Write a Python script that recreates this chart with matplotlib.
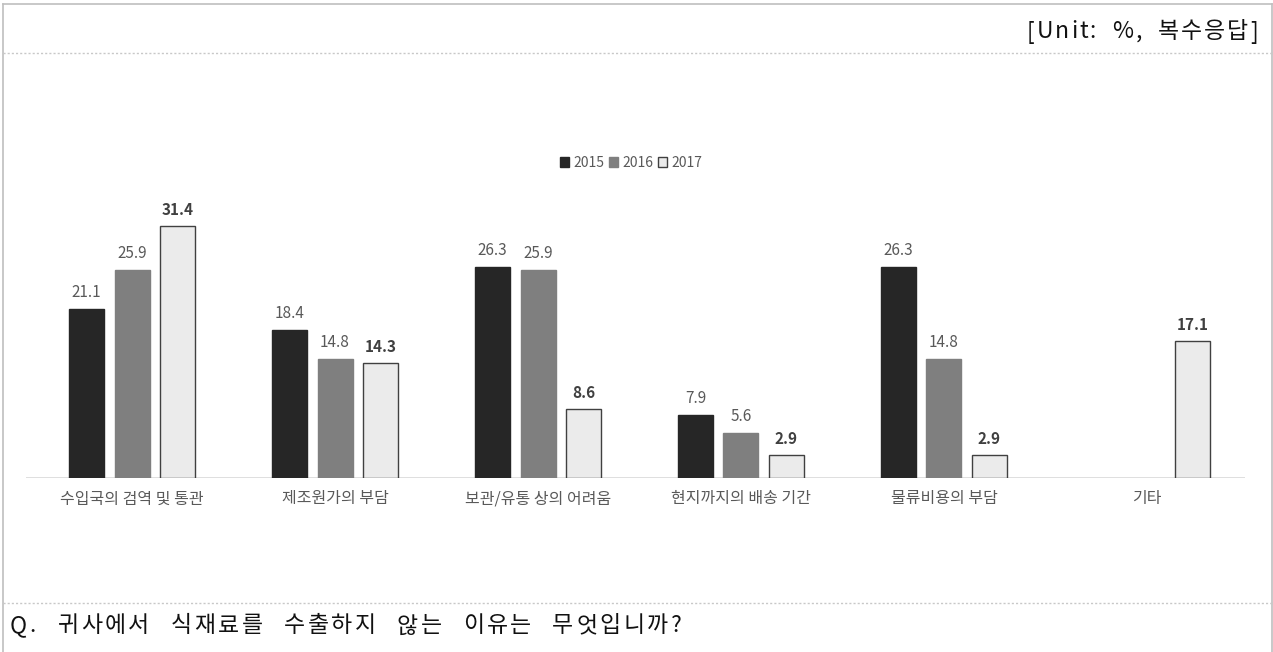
import matplotlib
matplotlib.use("Agg")
import matplotlib.pyplot as plt
from matplotlib.patches import Patch
from matplotlib.lines import Line2D
import numpy as np

plt.rcParams['font.family'] = ['Noto Sans CJK KR', 'DejaVu Sans']

categories = ["수입국의 검역 및 통관", "제조원가의 부담", "보관/유통 상의 어려움",
              "현지까지의 배송 기간", "물류비용의 부담", "기타"]
years = ["2015", "2016", "2017"]
v2015 = [21.1, 18.4, 26.3, 7.9, 26.3, None]
v2016 = [25.9, 14.8, 25.9, 5.6, 14.8, None]
v2017 = [31.4, 14.3, 8.6, 2.9, 2.9, 17.1]
unit_text = "[Unit: %, 복수응답]"
question = "Q. 귀사에서 식재료를 수출하지 않는 이유는 무엇입니까?"

W, H = 1273, 652
fig = plt.figure(figsize=(W / 100, H / 100), dpi=100)
renderer = fig.canvas.get_renderer()

def fx(x): return x / W
def fy(y): return 1 - y / H

def text_width(s, **kw):
    t = fig.text(0, 0, s, **kw)
    w = t.get_window_extent(renderer).width
    t.remove()
    return w

def tracked(text, x0, x1, y, word_extra=1.0, **kw):
    """Draw text with letter tracking so that the line spans x0..x1 pixels."""
    space_w = text_width("x x", **kw) - text_width("xx", **kw)
    words = text.split(" ")
    wchars = [[(c, text_width(c, **kw)) for c in w] for w in words]
    nat = sum(cw for w in wchars for _, cw in w) + space_w * (len(words) - 1)
    n_letter_gaps = sum(len(w) - 1 for w in wchars)
    n_word_gaps = len(words) - 1
    t = (x1 - x0 - nat) / (n_letter_gaps + n_word_gaps * (1 + word_extra))
    cx = x0
    for wi, w in enumerate(wchars):
        for ci, (c, cw) in enumerate(w):
            fig.text(fx(cx), fy(y), c, ha='left', va='center', **kw)
            cx += cw
            if ci < len(w) - 1:
                cx += t
        cx += space_w + t * (1 + word_extra)

border = '#bfbfbf'
fig.add_artist(Line2D([fx(3), fx(1272)], [fy(4), fy(4)], color=border, lw=1.2))
fig.add_artist(Line2D([fx(3), fx(3)], [fy(4), fy(652)], color=border, lw=1.2))
fig.add_artist(Line2D([fx(1272), fx(1272)], [fy(4), fy(652)], color=border, lw=1.2))
fig.add_artist(Line2D([fx(3), fx(1272)], [fy(53), fy(53)], color='#c8c8c8', lw=1, ls=(0, (1.5, 1.5))))
fig.add_artist(Line2D([fx(3), fx(1272)], [fy(603), fy(603)], color='#c8c8c8', lw=1, ls=(0, (1.5, 1.5))))

tracked(unit_text, 1027, 1258, 32, word_extra=5.0, fontsize=16.5, color='#111111')
tracked(question, 10, 682, 626, word_extra=5.0, fontsize=16.5, color='#111111')

# axes: baseline y=478, 8.03 px per unit
px_per_unit = 8.03
ymax = 35
ax_left, ax_right = 26, 1245
base_y = 478
ax = fig.add_axes([fx(ax_left), (H - base_y) / H, (ax_right - ax_left) / W, ymax * px_per_unit / H])
spacing = 203.0
xl = (ax_left - 132) / spacing
xr = (ax_right - 132) / spacing
ax.set_xlim(xl, xr)
ax.set_ylim(0, ymax)
for s in ax.spines.values():
    s.set_visible(False)
ax.axhline(0, color='#d9d9d9', lw=1.2, zorder=1)
ax.set_yticks([])
x = np.arange(len(categories))
ax.set_xticks(x)
ax.set_xticklabels(categories, fontsize=11.5, color='#595959')
ax.tick_params(axis='x', length=0, pad=9)

bw = 35 / spacing
off = 45.5 / spacing
series = [v2015, v2016, v2017]
fills = ['#262626', '#7f7f7f', '#ebebeb']
edges = ['#262626', '#7f7f7f', '#404040']
for i, (vals, fc, ec) in enumerate(zip(series, fills, edges)):
    xs = [xi + (i - 1) * off for xi, v in zip(x, vals) if v is not None]
    hs = [v for v in vals if v is not None]
    ax.bar(xs, hs, width=bw, color=fc, edgecolor=ec, linewidth=1.0, zorder=2)
    for xx, hh in zip(xs, hs):
        if i == 2:
            ax.text(xx, hh + 1.0, f"{hh:.1f}", ha='center', va='bottom', fontsize=11,
                    fontweight='bold', color='#404040')
        else:
            ax.text(xx, hh + 1.0, f"{hh:.1f}", ha='center', va='bottom', fontsize=11,
                    color='#595959')

handles = [Patch(facecolor=fc, edgecolor=ec, linewidth=1.0) for fc, ec in zip(fills, edges)]
fig.legend(handles, years, loc='center', bbox_to_anchor=(fx(631), fy(163)), ncol=3,
           frameon=False, fontsize=10, labelcolor='#595959', handlelength=0.65, handleheight=0.65,
           handletextpad=0.3, columnspacing=0.35)

fig.savefig("out.png", dpi=100)
